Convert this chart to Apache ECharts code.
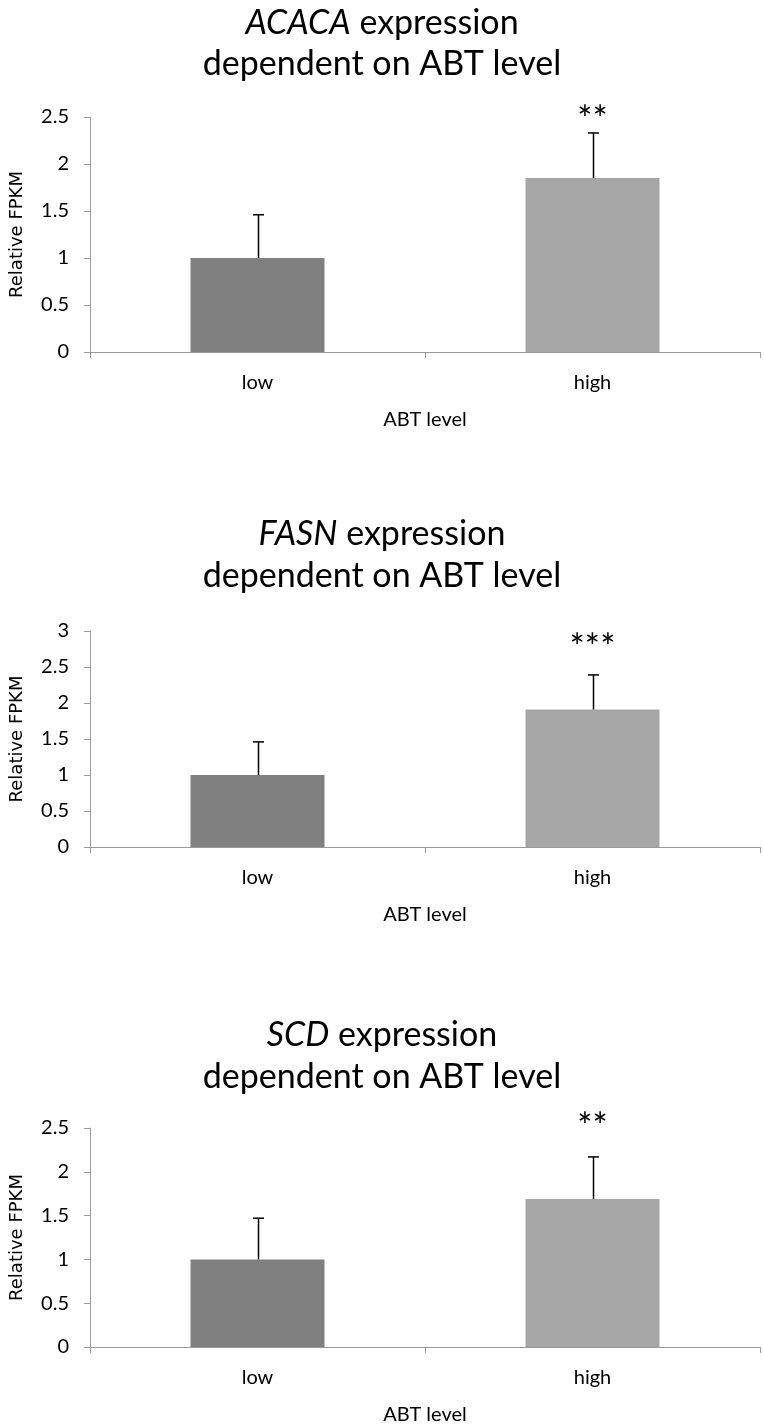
<!DOCTYPE html>
<html>
<head>
<meta charset="utf-8">
<script src="https://cdn.jsdelivr.net/npm/echarts@6/dist/echarts.min.js"></script>
<style>
html,body{margin:0;padding:0;background:#fff;}
#main{width:764px;height:1426px;}
</style>
</head>
<body>
<div id="main"></div>
<script>
// ---- data ----
const categories = ['low', 'high'];
const genes = ['ACACA', 'FASN', 'SCD'];
const acacaMean = [1.0, 1.85];
const acacaSD = [0.46, 0.48];
const fasnMean = [1.0, 1.91];
const fasnSD = [0.46, 0.48];
const scdMean = [1.0, 1.69];
const scdSD = [0.47, 0.48];
const sigLabels = ['**', '***', '**'];
const sigLevel = [2.56, 2.875, 2.61];
const yMax = [2.5, 3, 2.5];
const yTickStep = 0.5;
const xAxisName = 'ABT level';
const yAxisName = 'Relative FPKM';

// ---- layout / style ----
const means = [acacaMean, fasnMean, scdMean];
const sds = [acacaSD, fasnSD, scdSD];
const barColors = ['#808080', '#a6a6a6'];
const axisGray = '#9a9a9a';
const mainFont = 'Lato';
const titleSize = 34;
const grids = [
  {left: 87, right: 4, top: 117, height: 235},
  {left: 87, right: 4, top: 631, height: 216},
  {left: 87, right: 4, top: 1128, height: 220}
];
const titleTops = [[23, 64], [534, 576], [1035, 1077]];

const option = {
  animation: false,
  backgroundColor: '#fff',
  title: [],
  grid: grids,
  xAxis: [],
  yAxis: [],
  series: []
};

for (let i = 0; i < 3; i++) {
  option.title.push({
    text: '{it|' + genes[i] + '} expression',
    left: 'center',
    top: titleTops[i][0] - 22,
    textStyle: {
      rich: {
        it: {fontFamily: mainFont, fontSize: titleSize, fontStyle: 'italic', color: '#000'}
      },
      fontFamily: mainFont, fontSize: titleSize, fontWeight: 'normal', color: '#000'
    }
  });
  option.title.push({
    text: 'dependent on ABT level',
    left: 'center',
    top: titleTops[i][1] - 22,
    textStyle: {fontFamily: mainFont, fontSize: titleSize, fontWeight: 'normal', color: '#000'}
  });
  option.xAxis.push({
    type: 'category',
    gridIndex: i,
    data: categories,
    boundaryGap: true,
    name: xAxisName,
    nameLocation: 'middle',
    nameGap: 58,
    nameTextStyle: {fontFamily: mainFont, fontSize: 20, color: '#000'},
    axisLine: {lineStyle: {color: axisGray, width: 1}},
    axisTick: {show: true, length: 6, lineStyle: {color: axisGray}},
    axisLabel: {fontFamily: mainFont, fontSize: 20, color: '#000', margin: 21}
  });
  option.yAxis.push({
    type: 'value',
    gridIndex: i,
    min: 0,
    max: yMax[i],
    interval: yTickStep,
    name: yAxisName,
    nameLocation: 'middle',
    nameGap: 64,
    nameRotate: 90,
    nameTextStyle: {fontFamily: 'DejaVu Sans', fontSize: 18, color: '#000'},
    axisLine: {show: true, lineStyle: {color: axisGray, width: 1}},
    axisTick: {show: true, length: 6, lineStyle: {color: axisGray}},
    splitLine: {show: false},
    axisLabel: {fontFamily: mainFont, fontSize: 20, color: '#000', margin: 21,
      formatter: v => String(v)}
  });
  option.series.push({
    type: 'bar',
    xAxisIndex: i,
    yAxisIndex: i,
    barWidth: '40%',
    data: means[i].map((v, k) => ({value: v, itemStyle: {color: barColors[k]}})),
    z: 2
  });
  const m = means[i], s = sds[i];
  option.series.push({
    type: 'custom',
    xAxisIndex: i,
    yAxisIndex: i,
    data: m.map((v, k) => [k, v, v + s[k]]),
    z: 5,
    renderItem: function (params, api) {
      const x = api.value(0);
      const p0 = api.coord([x, api.value(1)]);
      const p1 = api.coord([x, api.value(2)]);
      const cx = Math.round(p0[0]) + 0.5;
      const capHalf = 5.5;
      return {
        type: 'group',
        children: [
          {type: 'line', shape: {x1: cx, y1: p0[1], x2: cx, y2: p1[1]},
            style: {stroke: '#000', lineWidth: 1.5}},
          {type: 'line', shape: {x1: cx - capHalf, y1: p1[1], x2: cx + capHalf, y2: p1[1]},
            style: {stroke: '#000', lineWidth: 1.5}}
        ]
      };
    }
  });
  option.series.push({
    type: 'custom',
    xAxisIndex: i,
    yAxisIndex: i,
    data: [[1, sigLevel[i]]],
    z: 6,
    renderItem: function (params, api) {
      const p = api.coord([api.value(0), api.value(1)]);
      const fs = 36;
      return {
        type: 'text',
        x: p[0], y: p[1] + fs * 0.24,
        style: {text: sigLabels[i], fontFamily: mainFont, fontSize: fs,
          fill: '#000', align: 'center', verticalAlign: 'middle'}
      };
    }
  });
}

const chart = echarts.init(document.getElementById('main'), null, {renderer: 'canvas'});
chart.setOption(option);
</script>
</body>
</html>
